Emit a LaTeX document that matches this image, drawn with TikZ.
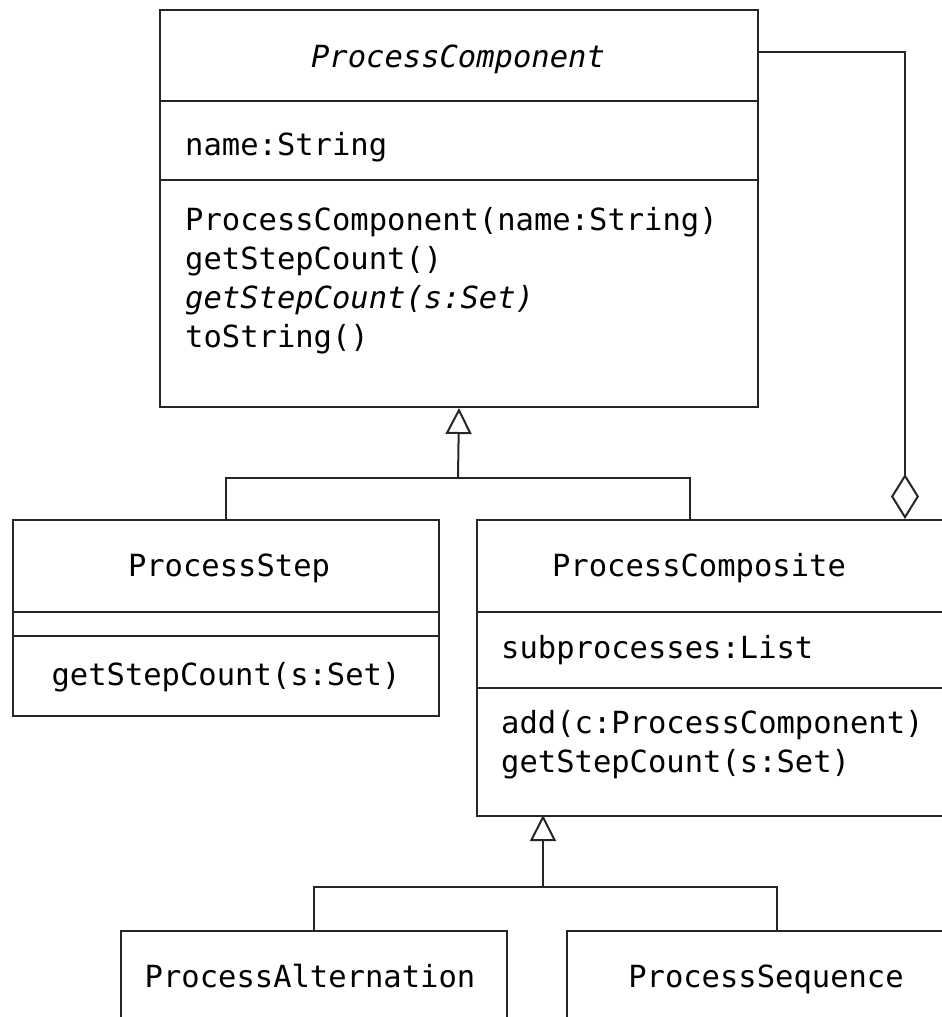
\documentclass[tikz,border=0pt]{standalone}
\usepackage{fontspec}
\newfontfamily\umlfont{DejaVu Sans Mono}
\usetikzlibrary{arrows.meta}
\definecolor{ink}{HTML}{262626}
\begin{document}
\begin{tikzpicture}[x=1pt,y=-1pt,
  classbox/.style={draw=ink, line width=2pt, inner sep=0pt, anchor=north west},
  txt/.style={inner sep=0pt, text=black, font=\umlfont\fontsize{30.5}{39}\selectfont},
  ctxt/.style={txt, anchor=base},
  ltxt/.style={txt, anchor=base west},
  divider/.style={draw=ink, line width=2pt},
  conn/.style={draw=ink, line width=2pt},
  gen/.style={conn, -{Triangle[open, length=26pt, width=26pt]}},
  agg/.style={conn, {Diamond[open, length=45pt, width=28pt]}-},
]
\useasboundingbox (0,0) rectangle (942,1017);
\clip (0,0) rectangle (942,1017);
% ---- class boxes
\node[classbox, minimum width=598pt, minimum height=397pt] (pc) at (159,9) {};
\node[classbox, minimum width=426pt, minimum height=196pt] (step) at (12,519) {};
\node[classbox, minimum width=490pt, minimum height=296pt] (comp) at (476,519) {};
\node[classbox, minimum width=386pt, minimum height=150pt] (alt) at (120,930) {};
\node[classbox, minimum width=420pt, minimum height=150pt] (seq) at (566,930) {};
% ---- compartment dividers
\draw[divider] (159,101) -- (757,101);
\draw[divider] (159,180) -- (757,180);
\draw[divider] (12,612) -- (438,612);
\draw[divider] (12,636) -- (438,636);
\draw[divider] (476,612) -- (966,612);
\draw[divider] (476,688) -- (966,688);
% ---- texts
\node[ctxt] (pcname) at (458,67) {\itshape ProcessComponent};
\node[ltxt] (pcattr) at (185,155) {name:String};
\node[ltxt] (pcm1) at (185,230) {ProcessComponent(name:String)};
\node[ltxt] (pcm2) at (185,269) {getStepCount()};
\node[ltxt] (pcm3) at (185,308) {\itshape getStepCount(s:Set)};
\node[ltxt] (pcm4) at (185,347) {toString()};
\node[ctxt] (stepname) at (229,576) {ProcessStep};
\node[ctxt] (stepm1) at (226,685) {getStepCount(s:Set)};
\node[ctxt] (compname) at (699,576) {ProcessComposite};
\node[ltxt] (compattr) at (501,658) {subprocesses:List};
\node[ltxt] (compm1) at (501,733) {add(c:ProcessComponent)};
\node[ltxt] (compm2) at (501,772) {getStepCount(s:Set)};
\node[ctxt] (altname) at (310,987) {ProcessAlternation};
\node[ctxt] (seqname) at (766,987) {ProcessSequence};
% ---- generalization ProcessComponent
\coordinate (j1) at (458,478);
\coordinate (compin) at (690,519);
\draw[gen] (j1) -- (pc.south);
\draw[conn] (step.north) |- (j1) -| (compin);
% ---- aggregation
\coordinate (aggtop) at (905,519);
\coordinate (aggend) at (757,52);
\draw[agg] (aggtop) |- (aggend);
% ---- generalization ProcessComposite
\coordinate (compout) at (543,815);
\coordinate (j2) at (543,887);
\draw[gen] (j2) -- (compout);
\draw[conn] (alt.north) |- (j2) -| (seq.north);
\end{tikzpicture}
\end{document}
